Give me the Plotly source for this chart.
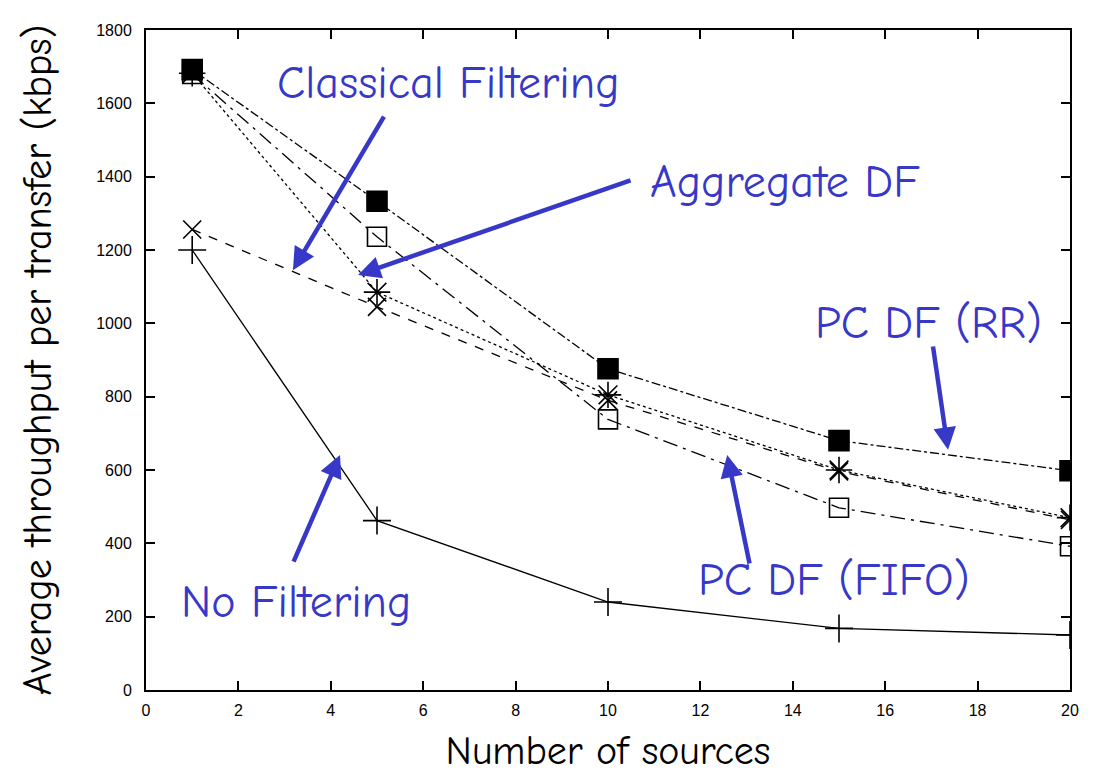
import plotly.graph_objects as go

sources = [1, 5, 10, 15, 20]
pc_df_rr = [1692, 1333, 876, 680, 598]
pc_df_fifo = [1680, 1236, 738, 497, 392]
aggregate_df = [1682, 1085, 805, 600, 470]
classical = [1256, 1045, 790, 596, 464]
no_filtering = [1200, 462, 240, 168, 150]

x_ticks = list(range(0, 21, 2))
y_ticks = list(range(0, 1801, 200))

BLUE = "#3838c8"
HAND = "Comic Sans MS, Comic Neue, Lato, sans-serif"

fig = go.Figure()

series = [
    ("No Filtering", no_filtering, "solid", "cross-thin-open", 20),
    ("Classical Filtering", classical, "dash", "x-thin-open", 18),
    ("Aggregate DF", aggregate_df, "dot", "asterisk-open", 22),
    ("PC DF (FIFO)", pc_df_fifo, "longdashdot", "square-open", 19),
    ("PC DF (RR)", pc_df_rr, "dashdot", "square", 20),
]
for name, vals, dash, sym, size in series:
    fig.add_trace(go.Scatter(
        x=sources, y=vals, name=name, mode="lines+markers",
        line=dict(color="black", width=1.3, dash=dash),
        marker=dict(symbol=sym, size=size, color="black",
                    line=dict(color="black", width=1.6)),
        showlegend=False,
    ))

# arrows: (head x, head y, tail x, tail y)
arrows = [
    (3.18, 1145, 5.17, 1568),
    (4.59, 1132, 10.52, 1391),
    (17.36, 655, 17.03, 941),
    (12.58, 641, 13.07, 341),
    (4.2, 641, 3.18, 346),
]
for hx, hy, tx, ty in arrows:
    fig.add_annotation(x=hx, y=hy, ax=tx, ay=ty, xref="x", yref="y",
                       axref="x", ayref="y", text="", showarrow=True,
                       arrowhead=2, arrowsize=1.0, arrowwidth=4.5,
                       arrowcolor=BLUE)

labels = [
    ("Classical Filtering", 6.54, 1655),
    ("Aggregate DF", 13.83, 1383),
    ("PC DF (RR)", 16.93, 1000),
    ("PC DF (FIFO)", 14.89, 300),
    ("No Filtering", 3.25, 240),
]
for txt, lx, ly in labels:
    fig.add_annotation(x=lx, y=ly, xref="x", yref="y", text=txt,
                       showarrow=False,
                       font=dict(family=HAND, size=46, color=BLUE))

fig.update_layout(
    width=1097, height=774,
    margin=dict(l=146, r=27, t=30, b=84),
    paper_bgcolor="white", plot_bgcolor="white",
    font=dict(family="Liberation Sans, Arial, sans-serif", color="black"),
)
fig.update_xaxes(
    range=[0, 20], tickvals=x_ticks, ticks="inside", ticklen=9,
    tickwidth=1.5, tickcolor="black", mirror="allticks", showline=True,
    linecolor="black", linewidth=2, showgrid=False, zeroline=False,
    tickfont=dict(size=16, color="black"), ticklabelstandoff=5,
    automargin=False,
    title=dict(text="Number of sources", standoff=18,
               font=dict(family=HAND, size=40, color="black")),
)
fig.update_yaxes(
    range=[0, 1800], tickvals=y_ticks, ticks="inside", ticklen=9,
    tickwidth=1.5, tickcolor="black", mirror="allticks", showline=True,
    linecolor="black", linewidth=2, showgrid=False, zeroline=False,
    tickfont=dict(size=16, color="black"), ticklabelstandoff=9,
    automargin=False,
    title=dict(text="Average throughput per transfer (kbps)", standoff=32,
               font=dict(family=HAND, size=40, color="black")),
)

fig.write_html("out.html")
